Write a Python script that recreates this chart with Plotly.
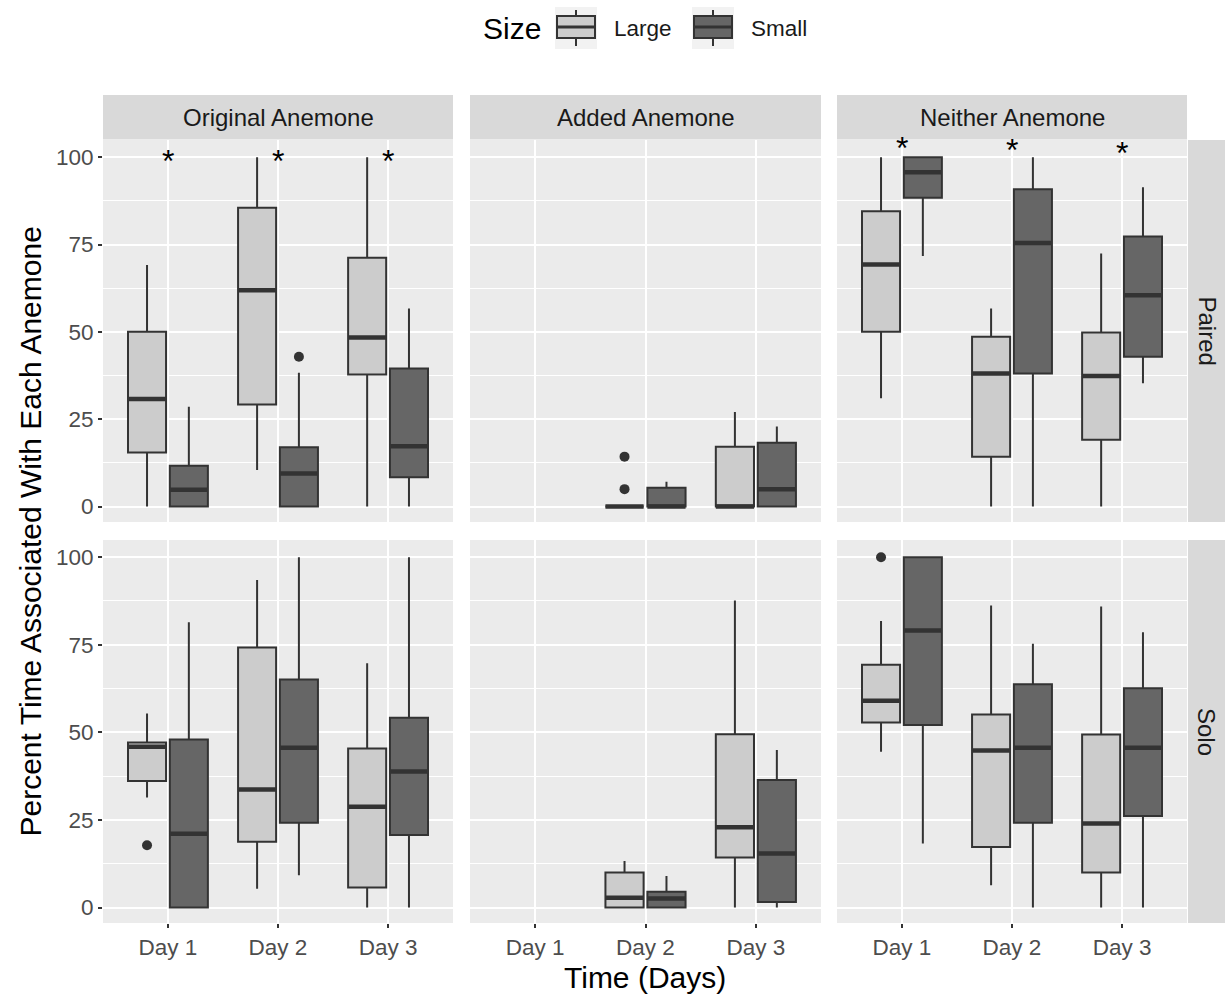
import plotly.graph_objects as go
from plotly.subplots import make_subplots

W, H = 1225, 997

# ---------------- data ----------------
days = ["Day 1", "Day 2", "Day 3"]
anemones = ["Original Anemone", "Added Anemone", "Neither Anemone"]
treatments = ["Paired", "Solo"]
sizes = ["Large", "Small"]
y_ticks = [0, 25, 50, 75, 100]

# rows: Original, Added, Neither ; columns: Day 1..3 (None = no data)
paired_large_lower = [[0, 10.5, 0], [None, 0, 0], [31.0, 0, 0]]
paired_large_q1 = [[15.5, 29.2, 37.8], [None, 0, 0], [50.0, 14.3, 19.1]]
paired_large_median = [[30.8, 61.9, 48.4], [None, 0, 0], [69.3, 38.1, 37.4]]
paired_large_q3 = [[50.0, 85.5, 71.2], [None, 0, 17.1], [84.5, 48.6, 49.8]]
paired_large_upper = [[69.1, 100, 100], [None, 0, 27.1], [100, 56.7, 72.4]]

paired_small_lower = [[0, 0, 0], [None, 0, 0], [71.7, 0, 35.3]]
paired_small_q1 = [[0, 0, 8.4], [None, 0, 0], [88.4, 38.1, 42.9]]
paired_small_median = [[4.8, 9.5, 17.3], [None, 0, 5.0], [95.7, 75.4, 60.5]]
paired_small_q3 = [[11.7, 17.0, 39.5], [None, 5.4, 18.3], [100, 90.8, 77.3]]
paired_small_upper = [[28.6, 38.3, 56.7], [None, 7.1, 22.9], [100, 100, 91.4]]

solo_large_lower = [[31.4, 5.4, 0], [None, 0, 0], [44.5, 6.4, 0]]
solo_large_q1 = [[36.1, 18.8, 5.7], [None, 0, 14.3], [52.8, 17.3, 10.0]]
solo_large_median = [[45.9, 33.7, 28.8], [None, 2.8, 22.9], [59.0, 44.8, 24.0]]
solo_large_q3 = [[47.1, 74.2, 45.4], [None, 10.0, 49.5], [69.3, 55.1, 49.4]]
solo_large_upper = [[55.4, 93.5, 69.7], [None, 13.3, 87.6], [81.8, 86.2, 85.9]]

solo_small_lower = [[0, 9.2, 0], [None, 0, 0], [18.3, 0, 0]]
solo_small_q1 = [[0, 24.2, 20.7], [None, 0, 1.6], [52.1, 24.2, 26.1]]
solo_small_median = [[21.1, 45.6, 38.8], [None, 2.6, 15.4], [79.1, 45.6, 45.6]]
solo_small_q3 = [[48.0, 65.1, 54.2], [None, 4.5, 36.4], [100, 63.7, 62.6]]
solo_small_upper = [[81.4, 100, 100], [None, 9.0, 45.0], [100, 75.3, 78.6]]

# outliers: (treatment, anemone, size, day, value)
outliers = [
    ("Paired", "Original Anemone", "Small", "Day 2", 42.9),
    ("Paired", "Added Anemone", "Large", "Day 2", 14.3),
    ("Paired", "Added Anemone", "Large", "Day 2", 5.0),
    ("Solo", "Original Anemone", "Large", "Day 1", 17.8),
    ("Solo", "Neither Anemone", "Large", "Day 1", 100.0),
]

# significance asterisks (Paired row)
star_anemone = ["Original Anemone"] * 3 + ["Neither Anemone"] * 3
star_day = ["Day 1", "Day 2", "Day 3", "Day 1", "Day 2", "Day 3"]
star_y = [99.0, 99.0, 99.0, 102.6, 102.1, 101.2]

stats = {
    ("Paired", "Large"): (paired_large_lower, paired_large_q1, paired_large_median, paired_large_q3, paired_large_upper),
    ("Paired", "Small"): (paired_small_lower, paired_small_q1, paired_small_median, paired_small_q3, paired_small_upper),
    ("Solo", "Large"): (solo_large_lower, solo_large_q1, solo_large_median, solo_large_q3, solo_large_upper),
    ("Solo", "Small"): (solo_small_lower, solo_small_q1, solo_small_median, solo_small_q3, solo_small_upper),
}

# ---------------- style ----------------
FONT = "Liberation Sans, Arial, Helvetica, sans-serif"
fill = {"Large": "#CCCCCC", "Small": "#666666"}
outline = "#333333"
panel_bg = "#EBEBEB"
strip_bg = "#D9D9D9"
key_bg = "#F2F2F2"
TICK_SIZE = 22.5
STRIP_SIZE = 24
TITLE_SIZE = 30

col_px = [(103, 453), (470, 821), (837, 1187)]
row_px = [(140, 522), (540, 923)]
strip_top_px = (95, 139.5)
strip_right_px = (1188, 1225)

fig = make_subplots(rows=2, cols=3)

for r, tr in enumerate(treatments):
    for c, an in enumerate(anemones):
        for s in sizes:
            lo, q1, med, q3, hi = (a[c] for a in stats[(tr, s)])
            idx = [i for i, v in enumerate(med) if v is not None]
            xs = [days[i] for i in idx]
            fig.add_trace(go.Box(
                x=xs,
                q1=[q1[i] for i in idx], median=[med[i] for i in idx], q3=[q3[i] for i in idx],
                lowerfence=[lo[i] for i in idx], upperfence=[hi[i] for i in idx],
                name=s, legendgroup=s, showlegend=False, offsetgroup=s,
                fillcolor=fill[s], line=dict(color=outline, width=2),
                whiskerwidth=0, boxpoints=False, hoverinfo="skip",
            ), row=r + 1, col=c + 1)
            # thicker median line (ggplot style)
            m = [med[i] for i in idx]
            fig.add_trace(go.Box(
                x=xs, q1=m, median=m, q3=m, lowerfence=m, upperfence=m,
                name=s, legendgroup=s, showlegend=False, offsetgroup=s,
                fillcolor=fill[s], line=dict(color=outline, width=4.5),
                whiskerwidth=0, boxpoints=False, hoverinfo="skip",
            ), row=r + 1, col=c + 1)
            # outlier points (box itself invisible, only points shown)
            ox = [o[3] for o in outliers if o[0] == tr and o[1] == an and o[2] == s]
            oy = [o[4] for o in outliers if o[0] == tr and o[1] == an and o[2] == s]
            if oy:
                fig.add_trace(go.Box(
                    x=ox, y=oy, name=s, legendgroup=s, showlegend=False, offsetgroup=s,
                    fillcolor="rgba(0,0,0,0)", line=dict(color="rgba(0,0,0,0)", width=0),
                    whiskerwidth=0, boxpoints="all", pointpos=0, jitter=0,
                    marker=dict(color=outline, size=10, line=dict(width=0)),
                    hoverinfo="skip",
                ), row=r + 1, col=c + 1)

fig.update_layout(boxmode="group", boxgap=0.24, boxgroupgap=0.09)

shapes = []
annotations = []
for r in range(2):
    for c in range(3):
        n = r * 3 + c + 1
        xa = "xaxis" if n == 1 else f"xaxis{n}"
        ya = "yaxis" if n == 1 else f"yaxis{n}"
        x0, x1 = col_px[c]
        y0, y1 = row_px[r]
        fig.layout[xa].update(
            domain=[x0 / W, x1 / W], type="category", categoryorder="array", categoryarray=days,
            range=[-0.59, 2.59], showgrid=True, gridcolor="white", gridwidth=1.8,
            zeroline=False, showline=False,
            showticklabels=(r == 1), ticks="outside" if r == 1 else "", ticklen=4,
            tickwidth=1.5, tickcolor=outline,
            tickfont=dict(family=FONT, size=TICK_SIZE, color="#4D4D4D"),
        )
        fig.layout[ya].update(
            domain=[1 - y1 / H, 1 - y0 / H], range=[-4.4, 104.9],
            tickvals=y_ticks, ticktext=[str(v) for v in y_ticks],
            showgrid=True, gridcolor="white", gridwidth=1.8, zeroline=False, showline=False,
            minor=dict(dtick=12.5, tick0=0, showgrid=True, gridcolor="white", gridwidth=0.8),
            showticklabels=(c == 0), ticks="outside" if c == 0 else "", ticklen=4,
            tickwidth=1.5, tickcolor=outline,
            tickfont=dict(family=FONT, size=TICK_SIZE, color="#4D4D4D"),
        )

# strips
for c, an in enumerate(anemones):
    x0, x1 = col_px[c]
    shapes.append(dict(type="rect", xref="paper", yref="paper", x0=x0 / W, x1=x1 / W,
                       y0=1 - strip_top_px[1] / H, y1=1 - strip_top_px[0] / H,
                       fillcolor=strip_bg, line=dict(width=0), layer="below"))
    annotations.append(dict(xref="paper", yref="paper", x=(x0 + x1) / 2 / W,
                            y=1 - sum(strip_top_px) / 2 / H, text=an, showarrow=False,
                            font=dict(family=FONT, size=STRIP_SIZE, color="#1A1A1A"),
                            xanchor="center", yanchor="middle"))
for r, tr in enumerate(treatments):
    y0, y1 = row_px[r]
    shapes.append(dict(type="rect", xref="paper", yref="paper", x0=strip_right_px[0] / W,
                       x1=strip_right_px[1] / W, y0=1 - y1 / H, y1=1 - y0 / H,
                       fillcolor=strip_bg, line=dict(width=0), layer="below"))
    annotations.append(dict(xref="paper", yref="paper", x=sum(strip_right_px) / 2 / W,
                            y=1 - (y0 + y1) / 2 / H, text=tr, textangle=90, showarrow=False,
                            font=dict(family=FONT, size=STRIP_SIZE, color="#1A1A1A"),
                            xanchor="center", yanchor="middle"))

# asterisks
for an, d, yv in zip(star_anemone, star_day, star_y):
    c = anemones.index(an)
    n = c + 1
    annotations.append(dict(xref="x" if n == 1 else f"x{n}", yref="y" if n == 1 else f"y{n}",
                            x=days.index(d), y=yv, text="*", showarrow=False,
                            font=dict(family=FONT, size=32, color="black"),
                            xanchor="center", yanchor="middle"))

# axis titles
annotations.append(dict(xref="paper", yref="paper", x=(col_px[0][0] + col_px[2][1]) / 2 / W,
                        y=1 - 977 / H, text="Time (Days)", showarrow=False,
                        font=dict(family=FONT, size=TITLE_SIZE, color="black"),
                        xanchor="center", yanchor="middle"))
annotations.append(dict(xref="paper", yref="paper", x=30 / W,
                        y=1 - (row_px[0][0] + row_px[1][1]) / 2 / H,
                        text="Percent Time Associated With Each Anemone", textangle=-90,
                        showarrow=False, font=dict(family=FONT, size=TITLE_SIZE, color="black"),
                        xanchor="center", yanchor="middle"))

# legend (ggplot style, drawn in paper space)
def px(x):
    return x / W


def py(y):
    return 1 - y / H


legend_cy = 28
annotations.append(dict(xref="paper", yref="paper", x=px(481), y=py(legend_cy), text="Size",
                        showarrow=False, xanchor="left", yanchor="middle",
                        font=dict(family=FONT, size=TITLE_SIZE, color="black")))
key_left = {"Large": 555, "Small": 692}
for s in sizes:
    kx = key_left[s]
    shapes.append(dict(type="rect", xref="paper", yref="paper", x0=px(kx), x1=px(kx + 42),
                       y0=py(legend_cy + 21), y1=py(legend_cy - 21), fillcolor=key_bg,
                       line=dict(width=0)))
    shapes.append(dict(type="line", xref="paper", yref="paper", x0=px(kx + 21), x1=px(kx + 21),
                       y0=py(legend_cy + 18), y1=py(legend_cy - 18),
                       line=dict(color=outline, width=2)))
    shapes.append(dict(type="rect", xref="paper", yref="paper", x0=px(kx + 2), x1=px(kx + 40),
                       y0=py(legend_cy + 10), y1=py(legend_cy - 12), fillcolor=fill[s],
                       line=dict(color=outline, width=2)))
    shapes.append(dict(type="line", xref="paper", yref="paper", x0=px(kx + 2), x1=px(kx + 40),
                       y0=py(legend_cy - 1), y1=py(legend_cy - 1),
                       line=dict(color=outline, width=3)))
    annotations.append(dict(xref="paper", yref="paper", x=px(kx + 57), y=py(legend_cy), text=s,
                            showarrow=False, xanchor="left", yanchor="middle",
                            font=dict(family=FONT, size=TICK_SIZE, color="#1A1A1A")))

fig.update_layout(
    width=W, height=H, margin=dict(l=0, r=0, t=0, b=0),
    paper_bgcolor="white", plot_bgcolor=panel_bg,
    shapes=shapes, annotations=annotations,
    font=dict(family=FONT, color="black"),
    showlegend=False,
)

fig.write_html("out.html")
